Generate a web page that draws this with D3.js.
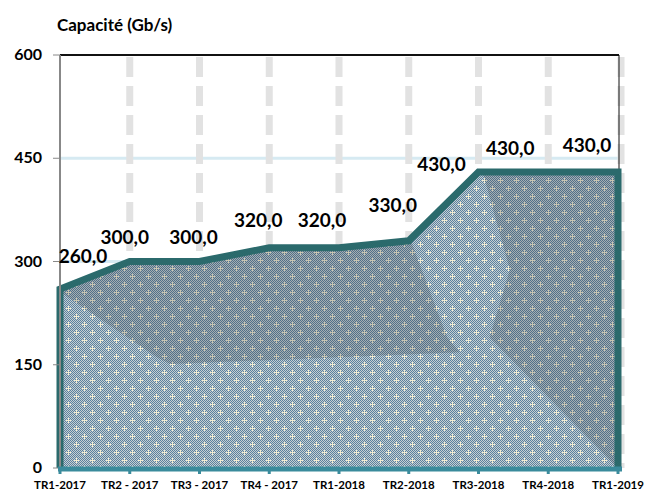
<!DOCTYPE html>
<html><head><meta charset="utf-8">
<script src="https://cdn.jsdelivr.net/npm/d3@7"></script>
<style>body{margin:0;background:#fff}svg{display:block}text{font-family:Lato,"Open Sans",sans-serif;font-weight:bold;fill:#000}</style>
</head><body>
<script>
const categories = ["TR1-2017","TR2 - 2017","TR3 - 2017","TR4 - 2017","TR1-2018","TR2-2018","TR3-2018","TR4-2018","TR1-2019"];
const capacity = [260,300,300,320,320,330,430,430,430];
const yTicks = [0,150,300,450,600];
const title = "Capacité (Gb/s)";
// label offsets (pixels) relative to the point, as placed in the original
const labelDx = [23,-5,-6,-11,-17,-16,-37,-38,-31];
const labelDy = [-33,-25,-25,-28,-28,-36,-8,-24,-27];
// shading facets (index, value) of the 3D-like fill
const facetA = [[0,260],[0,256],[1.39,161],[1.58,151],[5.73,168],[5.55,190],[5.03,330],[5,330],[4,320],[3,320],[2,300],[1,300]];
const facetB = [[6.06,430],[6.45,288],[6.16,190],[7.93,7],[8,0],[8,430]];

const W=646,H=491;
const svg=d3.select("body").append("svg").attr("width",W).attr("height",H);
const x=d3.scaleLinear().domain([0,categories.length-1]).range([60,618]);
const y=d3.scaleLinear().domain([0,600]).range([468,55]);

// pattern
const defs=svg.append("defs");
const pat=defs.append("pattern").attr("id","pat").attr("patternUnits","userSpaceOnUse").attr("width",16).attr("height",16);
pat.append("rect").attr("width",16).attr("height",16).attr("fill","#c6cfd3");
for(let i=0;i<16;i++)for(let j=0;j<16;j++){ if((i+j)%2===0) pat.append("rect").attr("x",i).attr("y",j).attr("width",1).attr("height",1).attr("fill","#5b819e"); }
[[4,4],[12,12]].forEach(([cx,cy])=>{
  pat.append("rect").attr("x",cx-2).attr("y",cy).attr("width",5).attr("height",1).attr("fill","#f2ecd2");
  pat.append("rect").attr("x",cx).attr("y",cy-2).attr("width",1).attr("height",5).attr("fill","#f2ecd2");
});

// gridlines
svg.append("g").selectAll("line").data([150,300,450]).join("line")
  .attr("x1",61).attr("x2",618).attr("y1",d=>y(d)).attr("y2",d=>y(d)).attr("stroke","#d6eaf2").attr("stroke-width",3);
svg.append("g").selectAll("line").data(categories.slice(1)).join("line")
  .attr("x1",(d,i)=>x(i+1)+ (i===categories.length-2?3:0)).attr("x2",(d,i)=>x(i+1)+(i===categories.length-2?3:0))
  .attr("y1",y(600)+2).attr("y2",y(0)).attr("stroke","#e2e2e2").attr("stroke-width",7).attr("stroke-dasharray","20,9");
svg.append("line").attr("x1",60).attr("x2",619).attr("y1",y(600)).attr("y2",y(600)).attr("stroke","#111").attr("stroke-width",2);
svg.append("line").attr("x1",619).attr("x2",619).attr("y1",y(600)).attr("y2",y(0)).attr("stroke","#111").attr("stroke-width",1);

// area
const area=d3.area().x((d,i)=>x(i)).y0(y(0)).y1(d=>y(d));
svg.append("path").datum(capacity).attr("d",area).attr("fill","url(#pat)");
const facet=d3.line().x(d=>x(d[0])).y(d=>y(d[1]));
[facetA,facetB].forEach(f=>svg.append("path").attr("d",facet(f)+"Z").attr("fill","rgba(50,58,64,0.22)"));
// outline
const pts=capacity.map((d,i)=>[x(i),y(d)]);
const outline=[[x(0),y(0)],...pts,[x(capacity.length-1),y(0)]];
svg.append("path").attr("d",d3.line()(outline)).attr("fill","none").attr("stroke","#2b6a6c").attr("stroke-width",7).attr("stroke-linejoin","miter");
svg.append("line").attr("x1",x(0)+1).attr("x2",x(0)+1).attr("y1",y(capacity[0])).attr("y2",y(0)).attr("stroke","#2b6a6c").attr("stroke-width",3);

// y axis
svg.append("line").attr("x1",60).attr("x2",60).attr("y1",y(600)).attr("y2",y(0)+2).attr("stroke","#888").attr("stroke-width",2);
const yg=svg.append("g");
yg.selectAll("line").data(yTicks).join("line").attr("x1",53).attr("x2",60).attr("y1",d=>y(d)).attr("y2",d=>y(d)).attr("stroke","#888").attr("stroke-width",1);
yg.selectAll("text").data(yTicks).join("text").attr("x",42).attr("y",d=>y(d)+5).attr("text-anchor","end").attr("font-size",16).text(d=>d);

// x axis
svg.append("line").attr("x1",58).attr("x2",622).attr("y1",y(0)+1).attr("y2",y(0)+1).attr("stroke","#3a8b9c").attr("stroke-width",5);
const xg=svg.append("g");
xg.selectAll("line").data(categories).join("line").attr("x1",(d,i)=>x(i)).attr("x2",(d,i)=>x(i)).attr("y1",y(0)).attr("y2",y(0)+6).attr("stroke","#3a8b9c").attr("stroke-width",3);
xg.selectAll("text").data(categories).join("text").attr("x",(d,i)=>x(i)).attr("y",488.5).attr("text-anchor","middle").attr("font-size",11.5).text(d=>d);

// data labels
svg.append("g").selectAll("text").data(capacity).join("text")
  .attr("x",(d,i)=>x(i)+labelDx[i]).attr("y",(d,i)=>y(d)+labelDy[i]+7)
  .attr("text-anchor","middle").attr("font-size",19).text(d=>d3.format(".1f")(d).replace(".",","));

svg.append("text").attr("x",57).attr("y",31).attr("font-size",17).text(title);
</script>
</body></html>
